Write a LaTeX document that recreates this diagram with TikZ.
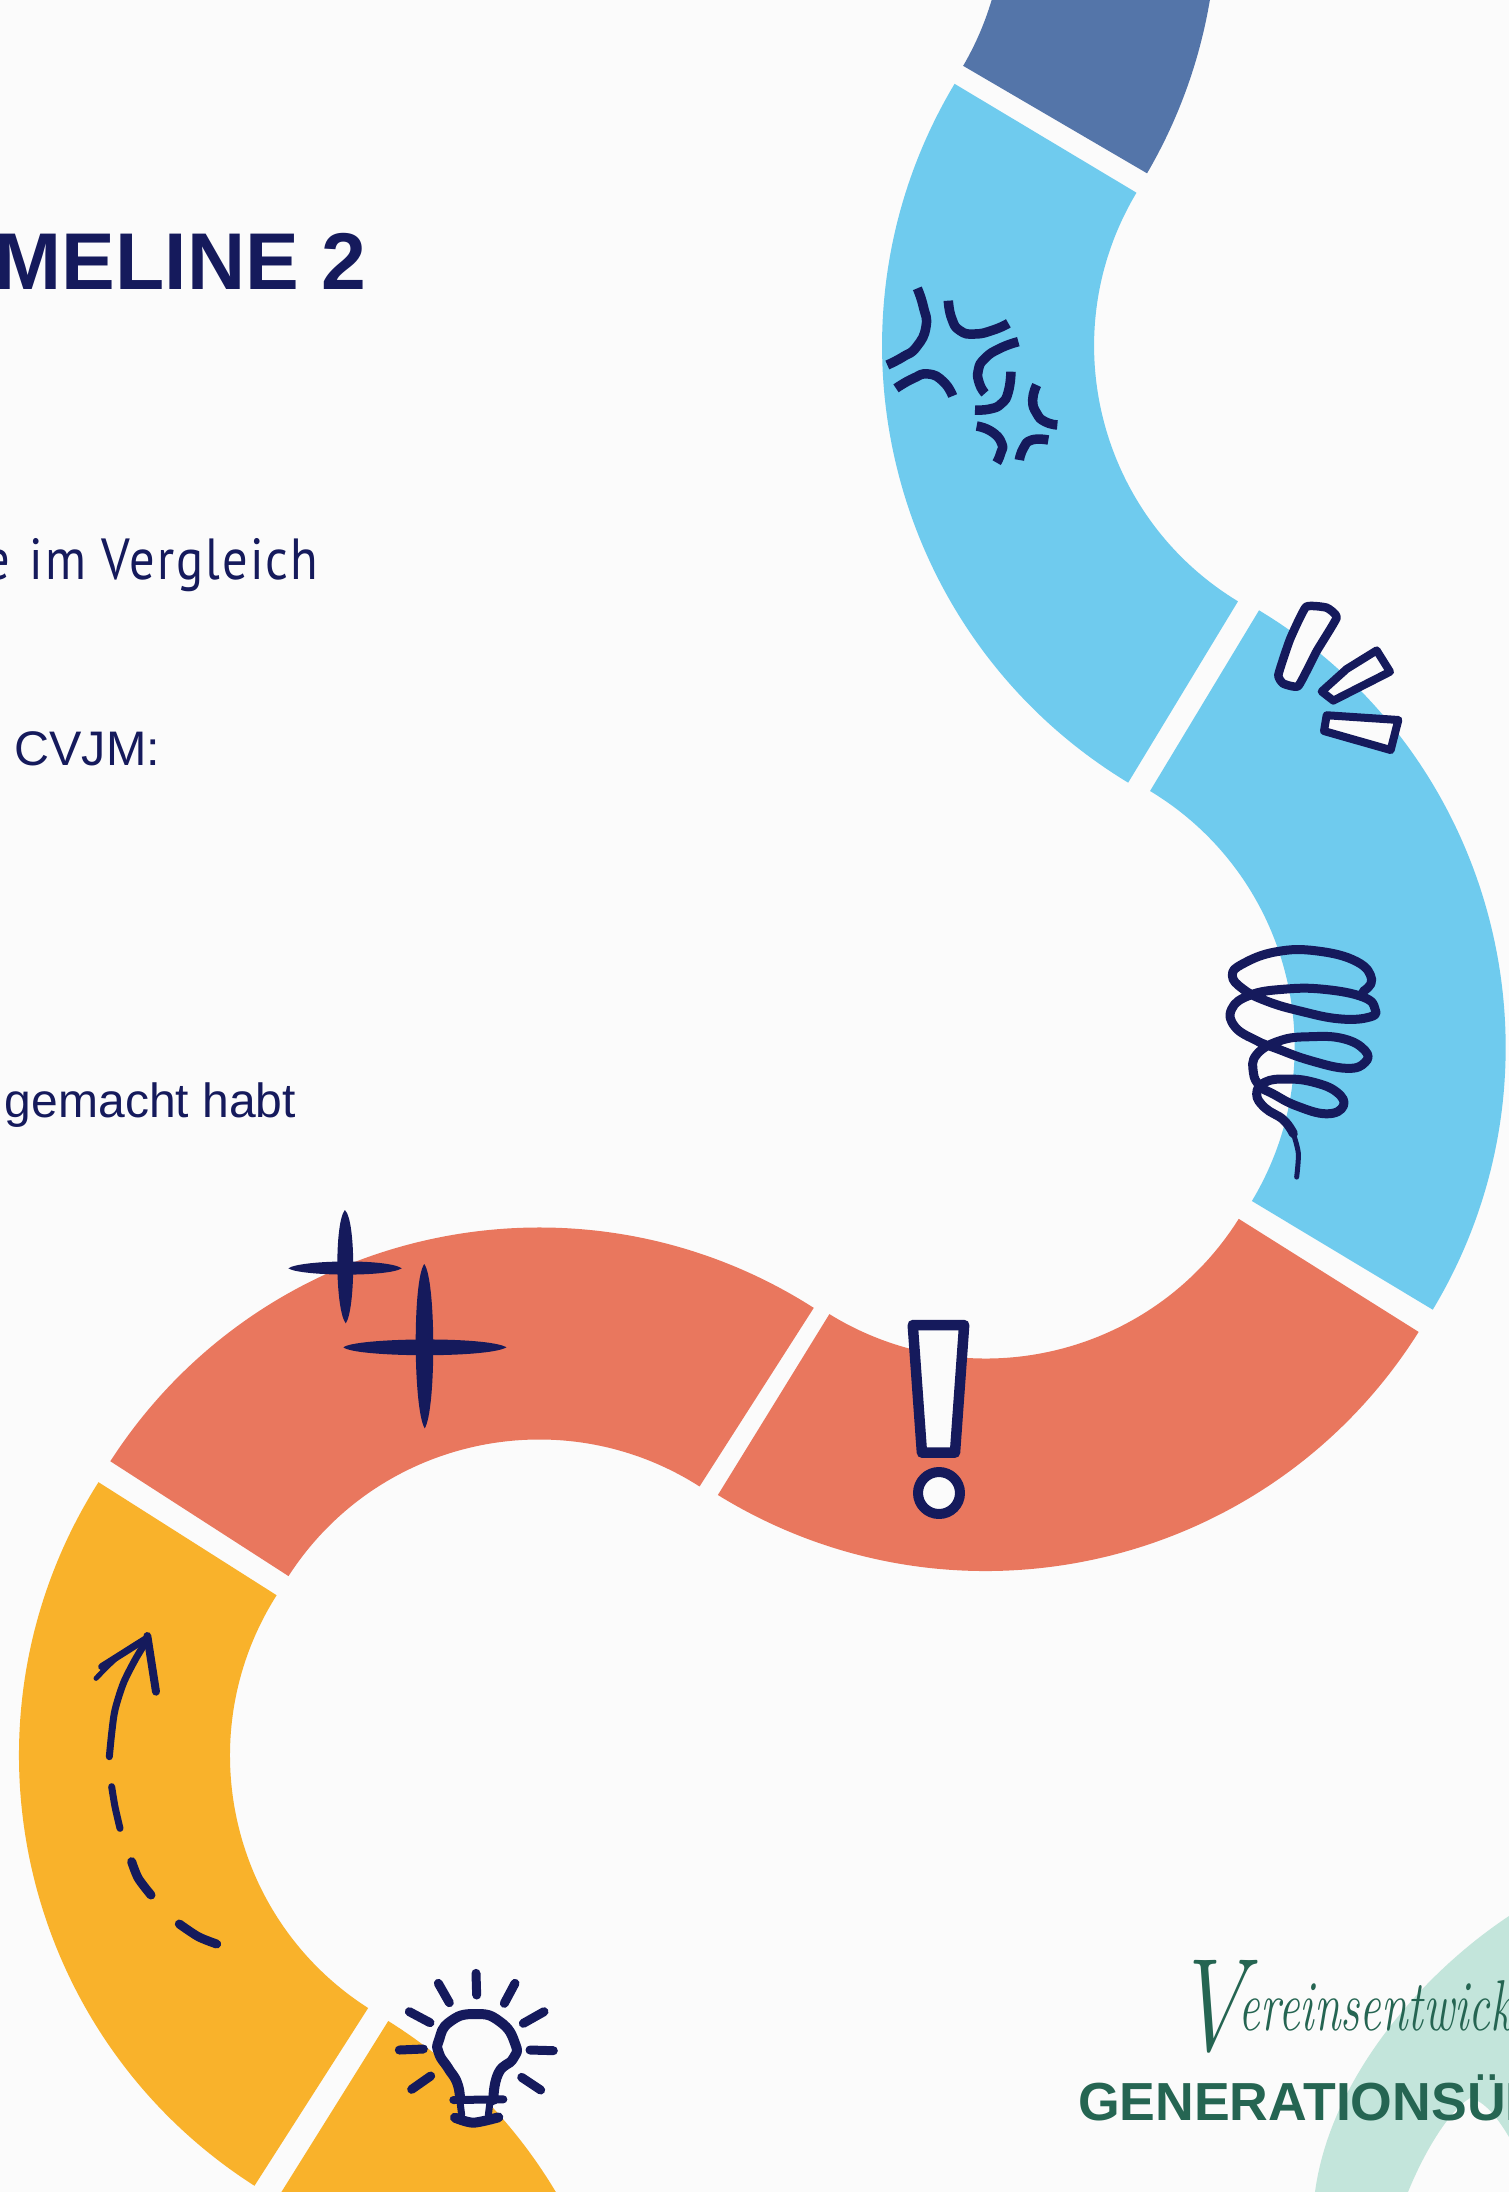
\documentclass[tikz,border=0pt]{standalone}
\usepackage{fontspec}
\setmainfont{Liberation Sans}
\newfontfamily\ptfont[LetterSpace=4]{PT Sans}
\newfontfamily\lmitfont{Latin Modern Roman}
\definecolor{pagebg}{HTML}{FBFBFB}
\definecolor{inknavy}{HTML}{151A5C}
\definecolor{skyblue}{HTML}{6FCBEE}
\definecolor{steelblue}{HTML}{5475A9}
\definecolor{coralred}{HTML}{E9775E}
\definecolor{sunyellow}{HTML}{F9B22B}
\definecolor{mintgreen}{HTML}{C3E5DB}
\definecolor{forestgreen}{HTML}{256552}
\newcommand{\ribbonseg}[7]{%
  \fill[#7] ([shift={(#5:#3)}]#1,#2) arc[start angle=#5,end angle=#6,radius=#3]
    -- ([shift={(#6:#4)}]#1,#2) arc[start angle=#6,end angle=#5,radius=#4] -- cycle;}
\tikzset{
  chalk/.style={draw=inknavy,line cap=round,line join=round,line width=#1},
  chalk/.default=6pt,
  lab/.style={inner sep=0pt,outer sep=0pt,text=inknavy},
}
\begin{document}
\begin{tikzpicture}[x=1pt,y=1pt,yscale=-1]
\useasboundingbox (0,0) rectangle (1509,2192);
\clip (0,0) rectangle (1509,2192);
\fill[pagebg] (0,0) rectangle (1509,2192);

% ribbon
\ribbonseg{705}{-85}{512}{299}{30.3}{-20}{steelblue}
\ribbonseg{1392.6}{346}{510.5}{298.5}{210.9}{121.2}{skyblue}
\ribbonseg{995.6}{1047}{510}{299}{-58.9}{31}{skyblue}
\ribbonseg{986}{1060}{511}{298.5}{32.15}{121.65}{coralred}
\ribbonseg{539}{1737.5}{510}{298}{-57.4}{-147.2}{coralred}
\ribbonseg{529.5}{1755.7}{510.5}{299.5}{212.4}{122.6}{sunyellow}
\ribbonseg{118}{2453.5}{510}{299}{-58}{-15}{sunyellow}

% mint shape
\fill[mintgreen] (1509,1916) .. controls (1420,1975) and (1330,2080) .. (1315,2192)
  -- (1408,2192) .. controls (1425,2150) and (1450,2110) .. (1470,2098)
  .. controls (1478,2100) and (1490,2105) .. (1509,2137) -- cycle;

% texts
\node[lab,anchor=base east,font=\bfseries\fontsize{80.5}{80.5}\selectfont] (title) at (366,289) {MELINE 2};
\node[lab,anchor=base east,font=\ptfont\fontsize{58}{58}\selectfont] (sub) at (318,579) {\scalebox{0.87}[1]{e\hspace{5pt} im Vergleich}};
\node[lab,anchor=base east,font=\fontsize{48.5}{48.5}\selectfont] (cvjm) at (160,765) {n CVJM:};
\node[lab,anchor=base west,font=\fontsize{48}{48}\selectfont] (habt) at (5,1117) {gemacht habt};
\node[lab,anchor=base west,text=forestgreen,font=\lmitfont\itshape\fontsize{48}{48}\selectfont] (script) at (1173,2030) {\raisebox{-20pt}{\scalebox{0.75}[1]{\fontsize{132}{132}\selectfont V}}\kern-6pt\scalebox{1}[1.5]{ereinsentwick}};
\node[lab,anchor=base west,text=forestgreen,font=\bfseries\fontsize{53.6}{53.6}\selectfont] (gen) at (1078,2120) {GENERATIONSÜB};

% anger marks
\begin{scope}[shift={(860,260)},xscale=1/3,yscale=1/3]
\foreach \p in {
 {(172,85)(190,140)(198,200)(170,260)(130,290)(82,315)},
 {(265,122)(275,175)(300,212)(345,222)(400,210)(445,190)},
 {(108,385)(160,355)(205,342)(250,365)(278,408)},
 {(475,245)(420,265)(375,295)(355,330)(358,370)(375,400)},
 {(453,335)(445,395)(425,430)(390,447)(345,450)},
 {(530,375)(518,420)(530,460)(555,485)(592,495)},
 {(350,498)(395,515)(425,550)(422,580)(410,608)},
 {(478,600)(490,565)(515,540)(565,540)}}
 {\draw[chalk=9.5pt,line cap=butt] plot[smooth,tension=0.9] coordinates \p;}
\end{scope}

% three bars and spring
\begin{scope}[shift={(1200,580)},xscale=1/3,yscale=1/2.529]
\filldraw[chalk=8.5pt,fill=pagebg] plot[smooth cycle,tension=0.25] coordinates {(318,68)(380,70)(410,95)(350,180)(295,268)(250,262)(235,240)(270,150)};
\filldraw[chalk=8pt,fill=pagebg] (530,178) -- (570,232) -- (400,305) -- (365,282) -- (440,225) -- cycle;
\filldraw[chalk=8pt,fill=pagebg] (380,342) -- (595,354) -- (572,430) -- (372,382) -- cycle;
\draw[chalk=9pt] plot[smooth,tension=0.75] coordinates {
 (490,1040)(515,1010)(470,965)(350,938)(230,940)(130,970)(97,1000)(130,1035)(200,1065)(300,1090)(420,1110)(510,1105)(525,1085)(490,1055)(370,1035)(250,1035)(150,1050)(95,1085)(105,1130)(170,1165)(230,1185)(330,1215)(440,1235)(495,1220)(495,1190)(430,1160)(330,1155)(240,1165)(170,1200)(160,1245)(180,1280)(220,1300)(290,1330)(380,1350)(430,1330)(410,1295)(340,1270)(260,1262)(195,1270)(170,1300)(195,1335)(250,1365)(280,1400)};
\draw[chalk=5pt] plot[smooth] coordinates {(280,1400)(295,1450)(290,1510)};
\end{scope}

% stars and exclamation mark
\begin{scope}[shift={(270,1190)},xscale=1/2.178,yscale=1/3]
\fill[inknavy] (163,60) .. controls (188,90) and (186,360) .. (165,400) .. controls (142,360) and (140,100) .. cycle;
\fill[inknavy] (40,235) .. controls (65,210) and (255,205) .. (287,235) .. controls (255,262) and (65,258) .. cycle;
\fill[inknavy] (336,222) .. controls (362,270) and (362,660) .. (337,715) .. controls (312,660) and (310,270) .. cycle;
\fill[inknavy] (160,472) .. controls (185,443) and (475,438) .. (515,472) .. controls (475,505) and (185,502) .. cycle;
\filldraw[chalk=10.5pt,fill=pagebg] (1400,405) -- (1512,405) -- (1492,788) -- (1420,788) -- cycle;
\end{scope}
\filldraw[chalk=10pt,fill=pagebg] (939,1493) circle[radius=21];

% arrow
\begin{scope}[shift={(70,1600)},xscale=1/3,yscale=1/3]
\draw[chalk=7pt] plot[smooth] coordinates {(118,470)(125,400)(135,330)(160,250)(195,180)(228,125)};
\draw[chalk=5pt] plot[smooth] coordinates {(78,235)(150,165)(232,112)};
\draw[chalk=7pt] (95,200) -- (225,118);
\draw[chalk=8pt] (232,108) -- (258,275);
\draw[chalk=7pt] plot[smooth] coordinates {(125,560)(135,620)(150,685)};
\draw[chalk=9pt] plot[smooth] coordinates {(185,785)(205,835)(243,885)};
\draw[chalk=9pt] plot[smooth] coordinates {(328,972)(385,1010)(440,1032)};
\end{scope}

% bulb
\begin{scope}[shift={(370,1950)},xscale=1/3,yscale=1/3]
\draw[chalk=9pt] (318,70) -- (320,135);
\draw[chalk=9pt] (205,100) -- (238,158);
\draw[chalk=9pt] (118,185) -- (180,218);
\draw[chalk=9pt] (88,300) -- (160,297);
\draw[chalk=9pt] (125,418) -- (182,378);
\draw[chalk=9pt] (403,160) -- (435,100);
\draw[chalk=9pt] (460,220) -- (522,185);
\draw[chalk=9pt] (480,300) -- (550,302);
\draw[chalk=9pt] (455,382) -- (512,420);
\fill[pagebg] (272,450) -- (275,505) -- (355,505) -- (368,450) -- cycle;
\filldraw[chalk=10pt,fill=pagebg] plot[smooth,tension=0.9] coordinates {(270,450)(262,400)(235,355)(207,310)(207,270)(240,215)(315,192)(390,215)(435,280)(430,325)(385,370)(370,450)};
\draw[chalk=8pt] (250,450) -- (400,448);
\draw[chalk=10pt] plot[smooth] coordinates {(255,503)(310,518)(385,502)};
\draw[chalk=7pt] (270,455) -- (275,495);
\draw[chalk=7pt] (360,455) -- (355,495);
\end{scope}
\end{tikzpicture}
\end{document}
